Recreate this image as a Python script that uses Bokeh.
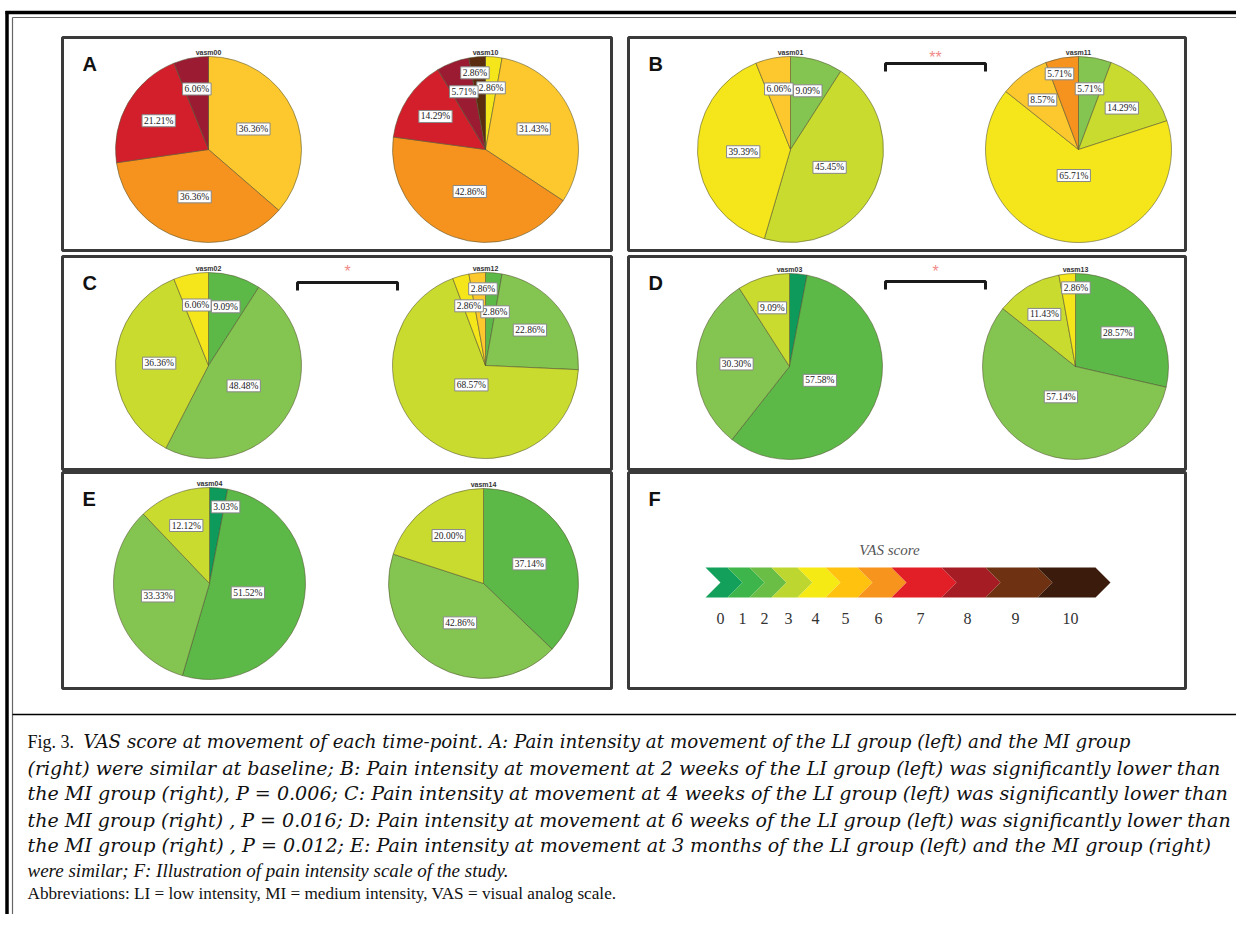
import numpy as np
from bokeh.plotting import figure
from bokeh.models import Range1d, ColumnDataSource
from bokeh.embed import file_html
from bokeh.resources import INLINE
from bokeh.core.properties import value

# ---------------- data ----------------
vasm00_scores = [5, 6, 7, 8]
vasm00_pct = [36.36, 36.36, 21.21, 6.06]
vasm10_scores = [4, 5, 6, 7, 8, 9]
vasm10_pct = [2.86, 31.43, 42.86, 14.29, 5.71, 2.86]
vasm01_scores = [2, 3, 4, 5]
vasm01_pct = [9.09, 45.45, 39.39, 6.06]
vasm11_scores = [2, 3, 4, 5, 6]
vasm11_pct = [5.71, 14.29, 65.71, 8.57, 5.71]
vasm02_scores = [1, 2, 3, 4]
vasm02_pct = [9.09, 48.48, 36.36, 6.06]
vasm12_scores = [1, 2, 3, 4, 5]
vasm12_pct = [2.86, 22.86, 68.57, 2.86, 2.86]
vasm03_scores = [0, 1, 2, 3]
vasm03_pct = [3.03, 57.58, 30.30, 9.09]
vasm13_scores = [1, 2, 3, 4]
vasm13_pct = [28.57, 57.14, 11.43, 2.86]
vasm04_scores = [0, 1, 2, 3]
vasm04_pct = [3.03, 51.52, 33.33, 12.12]
vasm14_scores = [1, 2, 3]
vasm14_pct = [37.14, 42.86, 20.00]

panel_letters = ["A", "B", "C", "D", "E", "F"]
significance = {"B": "**", "C": "*", "D": "*"}
scale_labels = ["0", "1", "2", "3", "4", "5", "6", "7", "8", "9", "10"]

caption_lines = [
    "VAS score at movement of each time-point. A: Pain intensity at movement of the LI group (left) and the MI group",
    "(right) were similar at baseline; B: Pain intensity at movement at 2 weeks of the LI group (left) was significantly lower than",
    "the MI group (right), P = 0.006; C: Pain intensity at movement at 4 weeks of the LI group (left) was significantly lower than",
    "the MI group (right) , P = 0.016; D: Pain intensity at movement at 6 weeks of the LI group (left) was significantly lower than",
    "the MI group (right) , P = 0.012; E: Pain intensity at movement at 3 months of the LI group (left) and the MI group (right)",
]
caption_last = "were similar; F: Illustration of pain intensity scale of the study."
caption_prefix = "Fig. 3."
abbrev_line = "Abbreviations: LI = low intensity, MI = medium intensity, VAS = visual analog scale."

# ---------------- styles ----------------
score_colors = {0: "#0e9a5a", 1: "#5cb847", 2: "#84c450", 3: "#c9db2e", 4: "#f4e61b",
                5: "#fdc72e", 6: "#f6931e", 7: "#d21f2b", 8: "#9b1b33", 9: "#5b2c0e"}
scale_colors = ["#12a05a", "#3db54a", "#6abd45", "#bed730", "#f5ea14", "#fec20f",
                "#f7941d", "#e21f26", "#a51c24", "#6e3212", "#3b1c0c"]
scale_edges = [705, 727, 749, 771, 797, 825, 857, 891, 941, 985, 1037, 1095]

W, H = 1236, 914
def Y(py):
    return H - py

p = figure(width=W, height=H, x_range=Range1d(0, W), y_range=Range1d(0, H),
           output_backend="svg", toolbar_location=None, x_axis_location=None,
           y_axis_location=None, min_border=0)
p.grid.visible = False
p.outline_line_color = None
p.background_fill_color = "white"

# outer frame
p.line([5, 1244], [Y(12), Y(12)], line_color="black", line_width=3.5)
p.line([12, 1244], [Y(17), Y(17)], line_color="#666666", line_width=1.2)
p.line([6.5, 6.5], [Y(10.5), Y(940)], line_color="black", line_width=3.5)
p.line([12, 12], [Y(17), Y(940)], line_color="#666666", line_width=1.2)
p.line([12, 1244], [Y(714), Y(714)], line_color="black", line_width=1.6)

# panels
panels = {
    "A": (62, 611, 37, 250), "B": (628, 1185, 37, 250),
    "C": (62, 611, 256, 469), "D": (628, 1185, 256, 469),
    "E": (62, 611, 472, 688), "F": (628, 1185, 472, 688),
}
for k in panel_letters:
    l, r, t, b = panels[k]
    p.quad(left=l, right=r, top=Y(t), bottom=Y(b), fill_color=None,
           line_color="#3a3a3a", line_width=3)
    p.text(x=[l + 20], y=[Y(t + 26)], text=[k], text_font=value("Liberation Sans"),
           text_font_style="bold", text_font_size="20px", text_color="#111111",
           text_align="left", text_baseline="middle")

# pies
pies = [
    ("vasm00", vasm00_scores, vasm00_pct, 208, 149, 93),
    ("vasm10", vasm10_scores, vasm10_pct, 485, 149, 93),
    ("vasm01", vasm01_scores, vasm01_pct, 790, 149, 93),
    ("vasm11", vasm11_scores, vasm11_pct, 1078, 149, 93),
    ("vasm02", vasm02_scores, vasm02_pct, 208, 365, 93),
    ("vasm12", vasm12_scores, vasm12_pct, 485, 365, 93),
    ("vasm03", vasm03_scores, vasm03_pct, 789, 366, 93),
    ("vasm13", vasm13_scores, vasm13_pct, 1075, 366, 93),
    ("vasm04", vasm04_scores, vasm04_pct, 209, 583, 96),
    ("vasm14", vasm14_scores, vasm14_pct, 483, 583, 95),
]
label_shift = {("vasm10", 5): (-5, -15), ("vasm11", 4): (-8, -15),
               ("vasm12", 4): (3, -15), ("vasm12", 0): (4, 8),
               ("vasm13", 3): (6, -17), ("vasm04", 0): (10, -13)}
hidden = {("vasm03", 0)}

for name, scores, pct, cx, cy, r in pies:
    fr = np.array(pct) / np.sum(pct)
    cum = np.concatenate([[0.0], np.cumsum(fr)])
    a_start = np.pi / 2 - 2 * np.pi * cum[:-1]
    a_end = np.pi / 2 - 2 * np.pi * cum[1:]
    src = ColumnDataSource(dict(x=[cx] * len(pct), y=[Y(cy)] * len(pct),
                                s=a_end, e=a_start,
                                c=[score_colors[s] for s in scores]))
    p.wedge(x="x", y="y", radius=r, start_angle="s", end_angle="e", fill_color="c",
            line_color="#555533", line_alpha=0.7, line_width=0.8, source=src)
    theta = 2 * np.pi * fr
    mid = (a_start + a_end) / 2
    d = 4 * r * np.sin(theta / 2) / (3 * theta)
    lx, ly, lt = [], [], []
    for i in range(len(pct)):
        if (name, i) in hidden:
            continue
        dx, dy = label_shift.get((name, i), (0, 0))
        lx.append(cx + d[i] * np.cos(mid[i]) + dx)
        ly.append(Y(cy) + d[i] * np.sin(mid[i]) - dy)
        lt.append(f"{pct[i]:.2f}%")
    p.text(x=lx, y=ly, text=lt, text_font=value("Liberation Serif"),
           text_font_size="9.5px", text_color="#222222", text_align="center",
           text_baseline="middle", background_fill_color="white",
           border_line_color="#888888", border_line_width=1, padding=(2, 1))
    p.text(x=[cx], y=[Y(cy - r - 1)], text=[name], text_font=value("Liberation Sans"),
           text_font_size="7px", text_font_style="bold", text_color="#333333",
           text_align="center", text_baseline="bottom")

# significance brackets
brackets = {"B": (885, 985, 63, 71, 935, 57), "C": (297, 397, 282, 290, 347, 271),
            "D": (885, 985, 281, 289, 935, 271)}
for k, (x1, x2, yt, yb, sx, sy) in brackets.items():
    p.line([x1, x1, x2, x2], [Y(yb), Y(yt), Y(yt), Y(yb)], line_color="#1a1a1a",
           line_width=3)
    p.text(x=[sx], y=[Y(sy)], text=[significance[k]], text_font=value("Liberation Sans"),
           text_font_size="16px", text_color="#f08a8a", text_align="center",
           text_baseline="middle")

# F: VAS scale arrow
top, bot, dd = 567, 597, 15
mid_y = (top + bot) / 2
xs_list, ys_list = [], []
for i in range(len(scale_colors)):
    x0, x1 = scale_edges[i], scale_edges[i + 1]
    xs_list.append([x0, x1, x1 + dd, x1, x0, x0 + dd])
    ys_list.append([Y(top), Y(top), Y(mid_y), Y(bot), Y(bot), Y(mid_y)])
p.patches(xs_list, ys_list, fill_color=scale_colors, line_color=None)
num_x = [(scale_edges[i] + scale_edges[i + 1]) / 2 + 4 for i in range(len(scale_labels))]
p.text(x=num_x, y=[Y(618)] * len(num_x), text=scale_labels,
       text_font=value("Liberation Serif"), text_font_size="16px",
       text_color="#333333", text_align="center", text_baseline="middle")
p.text(x=[889], y=[Y(549)], text=["VAS score"], text_font=value("Liberation Serif"),
       text_font_style="italic", text_font_size="15px", text_color="#555555",
       text_align="center", text_baseline="middle")

# caption
cap_y = [741, 767, 793, 819, 845]
p.text(x=[27], y=[Y(cap_y[0])], text=[caption_prefix], text_font=value("Liberation Serif"),
       text_font_size="18px", text_color="#111111", text_align="left",
       text_baseline="middle")
cap_src = ColumnDataSource(dict(
    x=[83, 27, 27, 27, 27], y=[Y(v) for v in cap_y], t=caption_lines,
    fs=["18.25px", "19.05px", "19.1px", "19.05px", "19.1px"]))
p.text(x="x", y="y", text="t", source=cap_src,
       text_font=value("DejaVu Serif"), text_font_style="italic",
       text_font_size="fs", text_color="#111111", text_align="left",
       text_baseline="middle")
p.text(x=[27], y=[Y(870)], text=[caption_last], text_font=value("Liberation Serif"),
       text_font_style="italic", text_font_size="19px", text_color="#111111",
       text_align="left", text_baseline="middle")
p.text(x=[27], y=[Y(893)], text=[abbrev_line], text_font=value("Liberation Serif"),
       text_font_size="17.2px", text_color="#111111", text_align="left",
       text_baseline="middle")

open("out.html", "w").write(file_html(p, INLINE))
